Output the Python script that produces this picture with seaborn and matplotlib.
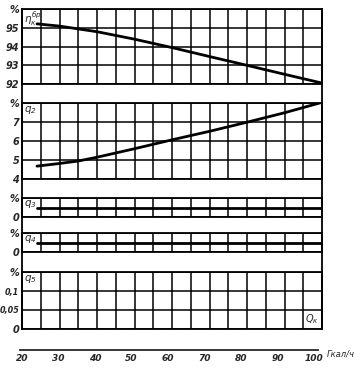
import numpy as np
import pandas as pd
import matplotlib
matplotlib.use('Agg')
import matplotlib.pyplot as plt
import seaborn as sns

# ------------------------------------------------------------------
# Dados
# ------------------------------------------------------------------
carga = [24, 30, 35, 40, 50, 60, 70, 80, 90, 100]          # Гкал/ч
eta_k = [95.22, 95.1, 94.95, 94.8, 94.4, 93.95, 93.47, 93.0, 92.52, 92.05]
q2 = [4.68, 4.82, 4.95, 5.15, 5.6, 6.07, 6.52, 7.0, 7.5, 8.05]
q3 = [0.5] * len(carga)
q4 = [0.5] * len(carga)

x_ticks = [20, 30, 40, 50, 60, 70, 80, 90, 100]

df = pd.DataFrame({'Q': carga, 'eta': eta_k, 'q2': q2, 'q3': q3, 'q4': q4})

sns.set_style('white')
plt.rcParams['font.family'] = ['DejaVu Sans']
plt.rcParams['font.style'] = 'italic'
plt.rcParams['mathtext.fontset'] = 'dejavusans'

W, H = 360, 368
fig = plt.figure(figsize=(W / 100, H / 100), dpi=100)
fig.patch.set_facecolor('white')


def rect(l, t, r, b):
    return [l / W, 1 - b / H, (r - l) / W, (b - t) / H]


X0, X1 = 22, 322

# moldura continua (laterais)
moldura = fig.add_axes(rect(X0, 9.3, X1, 329), zorder=0)
moldura.set_xticks([])
moldura.set_yticks([])
moldura.spines['top'].set_visible(False)
moldura.spines['bottom'].set_visible(False)
for s in ['left', 'right']:
    moldura.spines[s].set_linewidth(1.3)
    moldura.spines[s].set_color('black')
moldura.patch.set_alpha(0)

paineis = [
    dict(t=9.3, b=84, ylim=(92, 96), yt=[92, 93, 94, 95, 96],
         yl=['92', '93', '94', '95', '%'], col='eta', lab=r'$\eta_{к}^{бр}$'),
    dict(t=103.3, b=179, ylim=(4, 8), yt=[4, 5, 6, 7, 8],
         yl=['4', '5', '6', '7', '%'], col='q2', lab=r'$q_2$'),
    dict(t=198, b=217, ylim=(0, 1), yt=[0, 1],
         yl=['0', '%'], col='q3', lab=r'$q_3$'),
    dict(t=233, b=252, ylim=(0, 1), yt=[0, 1],
         yl=['0', '%'], col='q4', lab=r'$q_4$'),
    dict(t=272, b=329, ylim=(0, 0.15), yt=[0, 0.05, 0.1, 0.15],
         yl=['0', '0,05', '0,1', '%'], col=None, lab=r'$q_5$'),
]

for p in paineis:
    ax = fig.add_axes(rect(X0, p['t'], X1, p['b']), zorder=1)
    ax.patch.set_alpha(0)
    if p['col'] is not None:
        sns.lineplot(data=df, x='Q', y=p['col'], ax=ax, color='black', lw=2.0)
    ax.set_xlim(20, 100)
    ax.set_ylim(*p['ylim'])
    ax.set_xticks(np.arange(20, 101, 5))
    ax.set_yticks(p['yt'])
    ax.set_yticklabels(p['yl'], fontstyle='italic', fontweight='bold')
    for t in ax.get_yticklabels():
        t.set_fontsize(5.8 if len(t.get_text()) > 2 else 7)
    ax.tick_params(axis='x', labelbottom=False, length=0)
    ax.tick_params(axis='y', length=0, pad=2)
    ax.set_xlabel('')
    ax.set_ylabel('')
    ax.grid(True, color='black', lw=1.1)
    for s in ax.spines.values():
        s.set_linewidth(1.3)
        s.set_color('black')
    ax.text(0.008, 0.985, p['lab'], transform=ax.transAxes, fontsize=7.5,
            va='top', ha='left')
    if p['col'] is None:
        ax.text(0.99, 0.06, r'$Q_к$', transform=ax.transAxes, fontsize=7,
                va='bottom', ha='right')

# eixo x separado embaixo
eixo = fig.add_axes(rect(X0, 349, 314, 349.5), zorder=1)
eixo.patch.set_alpha(0)
eixo.set_xlim(20, 100)
eixo.set_ylim(-0.5, 0.5)
eixo.set_yticks([])
eixo.set_xticks(x_ticks)
eixo.set_xticklabels([str(v) for v in x_ticks], fontsize=6.5,
                     fontstyle='italic', fontweight='bold')
eixo.tick_params(axis='x', direction='in', length=2, pad=3, width=1)
for s in ['top', 'left', 'right']:
    eixo.spines[s].set_visible(False)
eixo.spines['bottom'].set_linewidth(1.3)
eixo.spines['bottom'].set_bounds(19.5, 101)
eixo.text(103.5, -0.5, 'Гкал/ч', transform=eixo.transData, fontsize=6,
          fontstyle='italic', va='top', ha='left', clip_on=False)

fig.savefig('out.png', dpi=100, facecolor='white')
